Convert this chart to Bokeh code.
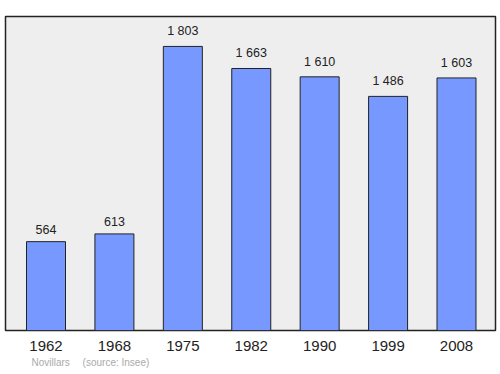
from bokeh.plotting import figure
from bokeh.models import Range1d, FixedTicker, Title, ColumnDataSource
from bokeh.core.properties import value
from bokeh.embed import file_html
from bokeh.resources import INLINE

years = ["1962", "1968", "1975", "1982", "1990", "1999", "2008"]
population = [564, 613, 1803, 1663, 1610, 1486, 1603]
labels = ["564", "613", "1 803", "1 663", "1 610", "1 486", "1 603"]
place = "Novillars"
source_note = "(source: Insee)"

xs = list(range(len(years)))
src = ColumnDataSource(dict(x=xs, top=population, lab=labels))

p = figure(width=500, height=374, output_backend="svg", toolbar_location=None,
           x_range=Range1d(-0.592, 6.57), y_range=Range1d(0, 1993),
           min_border_left=5, min_border_right=5, min_border_top=16, min_border_bottom=44)
p.background_fill_color = "#eeeeee"
p.border_fill_color = "white"
p.outline_line_color = "#222222"
p.outline_line_width = 1.5
p.grid.visible = False
p.yaxis.visible = False

p.vbar(x="x", top="top", bottom=0, width=0.57, source=src,
       fill_color="#7799ff", line_color="#222222", line_width=1)
p.text(x="x", y="top", text="lab", source=src, text_align="center",
       text_baseline="bottom", y_offset=-8, text_font=value("Liberation Sans"),
       text_font_size="12.5px", text_color="#222222")

ax = p.xaxis[0]
ax.ticker = FixedTicker(ticks=xs)
ax.major_label_overrides = {i: y for i, y in enumerate(years)}
ax.axis_line_color = None
ax.major_tick_line_color = None
ax.minor_tick_line_color = None
ax.major_tick_out = 0
ax.major_tick_in = 0
ax.major_label_standoff = 10
ax.major_label_text_font = "Liberation Sans"
ax.major_label_text_font_size = "15px"
ax.major_label_text_color = "#222222"

footer = Title(text=place + "\u2003\u00a0" + source_note, align="left", offset=26,
               text_font="Liberation Sans", text_font_size="10px",
               text_font_style="normal", text_color="#aaaaaa", standoff=3)
p.add_layout(footer, "below")

open("out.html", "w").write(file_html(p, INLINE))
